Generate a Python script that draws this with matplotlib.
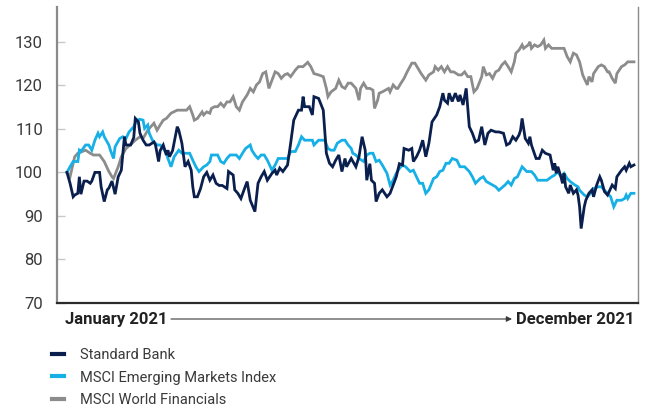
import matplotlib
matplotlib.use("Agg")
import matplotlib.pyplot as plt
from matplotlib.lines import Line2D

# days since 1 Jan 2021, index value (start = 100)
sb_days = [0, 2, 4, 5, 7, 8, 9, 11, 13, 15, 16, 18, 21, 22, 24, 26, 27, 29, 30, 31,
           33, 35, 37, 38, 41, 43, 44, 46, 47, 49, 51, 53, 56, 57, 59, 60, 62, 64, 65, 66,
           68, 71, 72, 74, 76, 78, 80, 81, 82, 84, 86, 88, 90, 92,
           94, 96, 98, 100, 103, 104, 107, 108, 110, 112, 114, 116, 118, 121, 123, 125, 127, 129, 132, 134,
           135, 137, 139, 142, 144, 146, 149, 151, 152, 153, 156, 158, 159, 162, 165, 167, 169, 171, 173, 175,
           177, 179, 180, 183,
           186, 188, 190, 192, 193, 195, 196, 198, 199, 201, 203, 206, 208, 210, 212, 214, 216, 217, 220, 222,
           223, 225, 227, 229, 231, 233, 235, 238, 240, 242, 243, 245, 246, 248, 250, 252, 253, 255, 257, 259,
           261, 263, 265, 267, 269, 271, 273, 276,
           278, 281, 283, 285, 287, 289, 291, 292, 293, 295, 297, 298, 299, 302, 304, 306, 308, 311, 313, 314,
           315, 316, 318, 319, 320, 321, 323, 324, 326, 328, 329, 330, 331, 333, 334, 336, 338, 339, 341, 343,
           344, 346, 348, 351, 353, 354, 357, 359, 360, 362, 363, 365]
sb_values = [100, 97.5, 94.4, 94.8, 95.2, 99, 95, 98, 98, 97.5, 98, 100, 100, 96.7, 93.3, 96, 96.4, 98, 96.5, 95,
             99, 100.5, 108.2, 106.3, 106.3, 108, 112.4, 111.6, 109, 107.4, 106.3, 106.3, 107, 106.3, 102.5, 105, 106.3, 104, 105.1, 103.6,
             105, 110.5, 109.7, 106.7, 101.3, 102.5, 100.5, 96.7, 94.4, 94.4, 96.3, 99, 100, 98.2,
             99.4, 97.5, 97, 97, 96.3, 100.2, 99.4, 96, 95.2, 94, 96, 97.9, 93.6, 91, 97.5, 99, 100.2, 98.2, 99.8, 100.5,
             99.4, 101, 100.2, 101.7, 106.7, 112, 114.3, 114.3, 117.4, 115.1, 115.1, 113.2, 117.4, 117, 114.3, 104.4, 102.1, 101.3, 102.8, 104,
             100.2, 103.2, 101.3, 103.2,
             101.3, 103.6, 108.2, 105.1, 98.2, 102, 98.2, 97.5, 93.3, 95.2, 96, 94.4, 95.2, 97.1, 99, 102, 101.7, 105.5, 105.1, 105.5,
             102.5, 103.6, 105.1, 107.4, 103.6, 106.7, 111.6, 113.2, 115.1, 118.2, 116.6, 115.9, 118.2, 116.3, 118.2, 116.3, 117.8, 115.5, 119.3, 110.5,
             109, 107, 107.4, 110.5, 106.3, 109, 109.7, 109.3,
             109.3, 109, 106.3, 106.7, 108.2, 107.4, 108.6, 109.7, 112.4, 107.8, 106.7, 108.2, 106.3, 103.2, 103.2, 105.1, 104.4, 104, 100.5, 102.1,
             99.8, 101.3, 99, 97.5, 99.8, 96.7, 95.2, 97.1, 95.2, 96, 94.8, 92.1, 87.1, 92.1, 93.6, 95.2, 96, 94.4, 97.1, 99,
             98.2, 95.6, 94.8, 97.1, 96.3, 99, 100.5, 101.3, 100.5, 102.1, 101.3, 101.7]

em_days = [0, 2, 4, 7, 8, 9, 12, 14, 16, 18, 20, 21, 23, 24, 27, 28, 30, 31, 34, 36,
           38, 40, 43, 45, 47, 49, 50, 52, 53, 55, 58, 60, 62, 64, 65, 67, 69, 72, 74, 76,
           79, 81, 83, 85, 88, 90, 92,
           93, 95, 97, 99, 101, 103, 105, 107, 109, 111, 113, 115, 118, 119, 121, 123, 125, 127, 129, 132,
           134, 136, 139, 142, 144, 147, 149, 151, 153, 156, 158, 159, 162, 166, 168, 170, 172, 174, 177, 179,
           181, 183,
           184, 186, 188, 191, 193, 195, 197, 199, 201, 203, 206, 208, 210, 212, 214, 216, 218, 221, 223, 225,
           227, 229, 231, 233, 236, 238, 240, 242, 244, 246, 248, 251, 253, 256, 259, 261, 263, 266, 268, 270,
           272, 274, 276,
           278, 282, 284, 286, 288, 290, 293, 296, 299, 301, 303, 306, 309, 312, 314, 316, 318, 320, 322, 324,
           327, 329, 330, 333, 335, 337, 339, 342, 344, 346, 348, 350, 352, 354, 357, 359, 360, 361, 363, 365]
em_values = [100, 101.3, 102.5, 102.5, 105.1, 104.8, 106.3, 106.3, 105.1, 107.4, 109, 108.2, 109.3, 108.2, 106.3, 105.1, 103.2, 105.9, 107.8, 108.2,
             107.8, 109.3, 110.5, 112, 112.2, 112, 110.1, 110.9, 109, 107.4, 106.3, 106.3, 105.5, 104.4, 103.2, 101.3, 103.6, 105.1, 104.4, 104.4,
             104.4, 102.8, 101.3, 100.2, 101.3, 101.7, 102.5,
             104, 104, 104, 102.5, 102.1, 103.2, 104, 104, 104, 103.2, 104.4, 105.5, 106.3, 105.1, 104, 103.2, 104, 104, 102.8, 100.5,
             101.7, 103.2, 103.2, 103.2, 104.8, 104.8, 106.3, 108.2, 107.4, 107.4, 107.4, 106.3, 107.4, 107.4, 105.5, 105.1, 105.1, 106.7, 107.4, 107.4,
             106.3, 105.5,
             104.4, 104, 103.2, 102.5, 104, 104.4, 104.4, 102.5, 102.8, 101.7, 99.8, 97.1, 98.2, 99.8, 100.9, 101.7, 101.3, 100.2, 100.5, 99,
             97.5, 97.5, 95.2, 96, 98.6, 99, 100.2, 100.5, 102.1, 102.1, 103.2, 102.8, 101.3, 101.3, 100.2, 99, 97.5, 98.6, 99, 97.9,
             97.5, 97.1, 96.7,
             95.9, 97.1, 97.9, 97.1, 98.6, 99, 101.3, 100.2, 100.2, 99.4, 98.2, 98.2, 98.2, 99, 99.4, 100.2, 99, 99.8, 98.6, 97.9,
             97.1, 96.7, 95.9, 94.8, 94.4, 95.2, 96.3, 96.7, 96.7, 95.9, 95.2, 94.4, 92.1, 93.6, 93.6, 94, 94.8, 94, 95.2, 95.2]

wf_days = [0, 2, 5, 7, 12, 15, 17, 21, 24, 27, 29, 30, 33, 35, 38, 42, 44, 47, 49, 52,
           56, 58, 60, 62, 64, 67, 71, 74, 77, 79, 81, 82, 84, 87, 88, 90, 92,
           93, 95, 97, 99, 101, 103, 105, 107, 109, 111, 113, 116, 118, 120, 122, 124, 126, 128, 130, 132,
           134, 136, 138, 140, 142, 144, 147, 149, 152, 155, 157, 159, 162, 165, 167, 168, 170, 173, 175, 177,
           179, 181, 183,
           184, 186, 188, 189, 191, 193, 195, 197, 198, 200, 201, 203, 205, 207, 208, 210, 212, 213, 215, 217,
           219, 222, 224, 226, 228, 231, 233, 236, 237, 239, 241, 243, 245, 247, 249, 252, 254, 256, 258, 260,
           262, 264, 267, 268, 270, 272, 274, 276,
           278, 280, 282, 284, 286, 288, 289, 291, 293, 294, 297, 298, 299, 301, 303, 305, 307, 308, 310, 312,
           315, 318, 320, 322, 324, 326, 328, 330, 332, 333, 335, 336, 338, 339, 342, 344, 346, 348, 349, 351,
           353, 354, 357, 359, 361, 363, 365]
wf_values = [100, 99, 103.6, 104.4, 105.1, 104.4, 104, 104, 102.5, 100.2, 99, 98.6, 101.3, 103.6, 105.5, 106.7, 107.4, 108.2, 107.8, 109.7,
             111.3, 109.7, 110.9, 112, 112.4, 113.6, 114.3, 114.3, 114.3, 115.1, 113.2, 112, 112.4, 113.9, 113.2, 113.9, 113.6,
             114.7, 115.1, 115.1, 115.9, 115.1, 116.2, 116.2, 117.4, 115.1, 114.3, 116.2, 117.8, 119.3, 118.5, 120.1, 120.8, 122.7, 123.1, 119.3, 121.2,
             123.1, 122.7, 121.6, 122.4, 122.7, 122, 123.5, 124.3, 124.3, 125.3, 124.3, 122.7, 122.4, 122, 119.3, 117.4, 118.5, 119.3, 121.2, 119.7,
             119.3, 120.5, 120.5,
             120.1, 119.3, 116.6, 119.3, 120.5, 119.3, 119.3, 118.9, 114.7, 116.6, 118.2, 118.5, 118.9, 119.3, 118.5, 120.1, 119.3, 119.3, 120.5, 121.6,
             123.1, 125.1, 125.1, 123.9, 122.7, 121.2, 122.4, 123.1, 124.3, 123.5, 124.3, 123.1, 124.3, 123.1, 123.1, 122.4, 122.4, 123.1, 122, 122,
             118.5, 119.3, 122, 124.3, 122.4, 122.7, 121.6, 123.1,
             123.5, 124.7, 125.4, 124.3, 123.1, 125.4, 127.4, 128.1, 129.3, 128.5, 129.3, 130, 128.5, 129.3, 128.9, 129.3, 130.4, 128.5, 129.3, 128.5,
             128.5, 128.5, 128.5, 126.6, 125.4, 127.4, 127, 125.4, 122.4, 121.6, 120.1, 122, 120.8, 122.7, 124.3, 124.7, 124.3, 123.1, 123.1, 121.6,
             120.5, 122.7, 124.3, 124.7, 125.4, 125.4, 125.4]

series_names = ["Standard Bank", "MSCI Emerging Markets Index", "MSCI World Financials"]
y_ticks = [70, 80, 90, 100, 110, 120, 130]
start_label = "January 2021"
end_label = "December 2021"

NAVY = "#0a1f4e"
CYAN = "#17b0e6"
GREY = "#8c8c8d"
TEXT = "#3a3a3a"

plt.rcParams["font.family"] = ["Roboto", "DejaVu Sans"]

fig = plt.figure(figsize=(6.48, 4.11), dpi=100)
ax = fig.add_axes([57 / 648, 1 - 303 / 411, 581 / 648, 296 / 411])

ax.plot(wf_days, wf_values, color=GREY, lw=2.0, solid_joinstyle="miter")
ax.plot(em_days, em_values, color=CYAN, lw=2.0, solid_joinstyle="miter")
ax.plot(sb_days, sb_values, color=NAVY, lw=2.0, solid_joinstyle="miter")

ax.set_xlim(-6.4, 367.6)
ax.set_ylim(70, 138)
ax.set_xticks([])
ax.set_yticks(y_ticks)
ax.tick_params(axis="y", direction="in", length=6, width=1, color="#c8c8c8",
               labelsize=12, labelcolor=TEXT, pad=10)

ax.spines["top"].set_visible(False)
ax.spines["left"].set_color("#8a8a8a")
ax.spines["left"].set_linewidth(1.6)
ax.spines["right"].set_color("#8a8a8a")
ax.spines["right"].set_linewidth(1.0)
ax.spines["bottom"].set_color("#2b2b2b")
ax.spines["bottom"].set_linewidth(1.6)

# timeline under the axis
y_arrow = 1 - 319 / 411
fig.text(65 / 648, y_arrow, start_label, fontsize=12, fontweight="bold",
         color="#222222", va="center", ha="left")
fig.text(634 / 648, y_arrow, end_label, fontsize=12, fontweight="bold",
         color="#222222", va="center", ha="right")
ax.annotate("", xy=(512 / 648, y_arrow), xytext=(171 / 648, y_arrow),
            xycoords="figure fraction", textcoords="figure fraction",
            arrowprops=dict(arrowstyle="-|>", color=TEXT, lw=0.8,
                            mutation_scale=8, shrinkA=0, shrinkB=0))

handles = [Line2D([], [], color=c, lw=3) for c in (NAVY, CYAN, GREY)]
fig.legend(handles, series_names, loc="upper left",
           bbox_to_anchor=(46 / 648, 1 - 342 / 411), frameon=False,
           fontsize=10.5, handlelength=0.82, handletextpad=1.1,
           labelspacing=0.6, borderaxespad=0, labelcolor=TEXT)

fig.savefig("out.png", dpi=100)
